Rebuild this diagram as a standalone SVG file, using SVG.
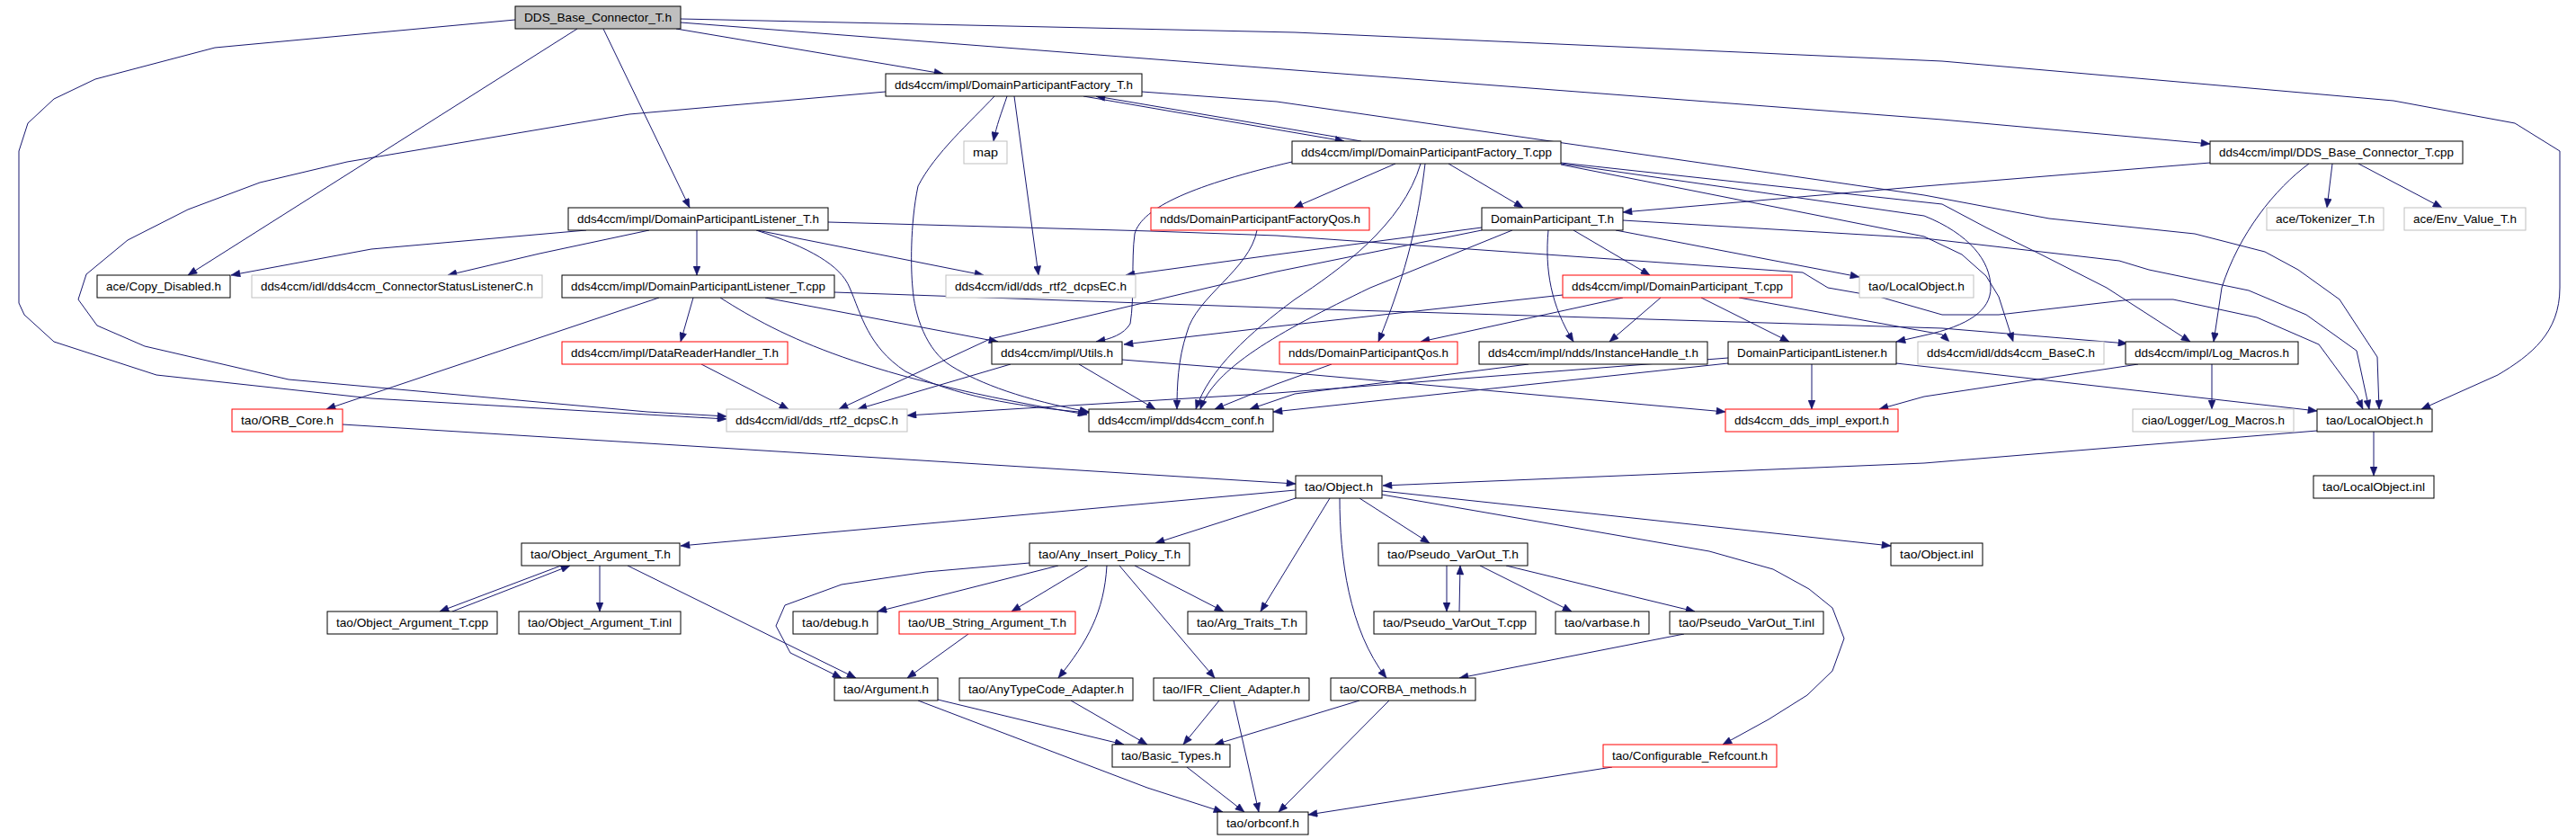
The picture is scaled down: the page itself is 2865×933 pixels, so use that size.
<svg xmlns="http://www.w3.org/2000/svg" width="2865" height="933" viewBox="0 0 2865 933">
<style>
.node rect{fill:#ffffff;stroke:#000000;stroke-width:1}
.node rect.gray{stroke:#bfbfbf}
.node rect.red{stroke:#ff0000}
.node rect.root{fill:#bfbfbf;stroke:#000000}
.node text{font-family:"Liberation Sans",Arial,sans-serif;font-size:13.5px;fill:#000000}
#edges path{fill:none;stroke:#191970;stroke-width:1;marker-end:url(#arr)}
</style>
<defs>
<marker id="arr" markerUnits="userSpaceOnUse" viewBox="0 0 10 8" refX="10" refY="4" markerWidth="11" markerHeight="8" orient="auto">
<path d="M0,0 L10,4 L0,8 z" fill="#191970" stroke="#191970" stroke-width="0.5"/>
</marker>
</defs>
<rect x="0" y="0" width="2865" height="933" fill="#ffffff"/>
<g id="edges">
<path d="M752,32 L1049,82"/>
<path d="M642,32 L209,306"/>
<path d="M671,32 L767,231"/>
<path d="M573,22 L239,53 L106,88 L60,110 L31,137 L21,168 L21,337 L27,350 L60,380 L174,417 L413,443 L720,461 L808,466"/>
<path d="M985,102 L700,127 L386,180 L289,203 L209,233 L142,267 L96,305 L87,333 L108,362 L161,385 L321,422 L720,458 L808,463"/>
<path d="M757,25 L1440,78 L2160,133 L2458,160"/>
<path d="M757,21 L1440,36 L2160,68 L2662,112 L2797,137 L2847,168 L2847,320 C2847,370 2815,395 2778,417 L2693,455"/>
<path d="M1120,107 C1114,125 1108,140 1105,157"/>
<path d="M1128,107 L1155,306"/>
<path d="M1106,107 C1080,135 1040,170 1021,207 C1012,250 1013,300 1015,320 C1017,350 1030,390 1058,407 C1090,427 1140,445 1211,458"/>
<path d="M1205,107 L1495,157"/>
<path d="M1514,157 L1219,107"/>
<path d="M1270,102 L1420,113 L2140,217 L2279,243 L2441,260 L2519,280 L2556,300 L2602,333 L2644,397 L2646,455"/>
<path d="M652,256 L413,277 L257,306"/>
<path d="M722,256 L600,282 L498,306"/>
<path d="M775,256 L775,306"/>
<path d="M842,256 L1094,306"/>
<path d="M841,256 C900,275 935,295 945,320 C958,350 965,385 1007,413 C1060,440 1130,452 1211,459"/>
<path d="M921,247 L1280,257 L1420,262 L2005,303 L2033,320 L2090,330 L2160,350 L2223,350 L2371,333 L2417,333 L2510,353 L2579,383 L2621,440 L2628,455"/>
<path d="M771,331 L757,380"/>
<path d="M851,331 L1110,380"/>
<path d="M801,331 C870,375 960,420 1209,461"/>
<path d="M733,331 L363,455"/>
<path d="M928,325 L1440,343 L2160,365 L2366,382"/>
<path d="M780,405 L877,455"/>
<path d="M1124,405 L954,455"/>
<path d="M1200,405 L1285,455"/>
<path d="M1248,400 L1440,415 L1919,458"/>
<path d="M1552,182 L1439,231"/>
<path d="M1611,182 L1694,231"/>
<path d="M1437,180 C1330,205 1270,230 1262,260 C1258,290 1262,330 1257,360 C1250,372 1235,377 1219,380"/>
<path d="M1580,182 C1560,250 1490,300 1440,333 C1390,370 1345,410 1330,455"/>
<path d="M1585,182 C1578,240 1566,300 1533,380"/>
<path d="M1736,181 L2160,227 L2209,253 L2270,283 L2343,320 L2436,380"/>
<path d="M1736,182 L2140,240 C2190,260 2214,290 2214,320 C2214,345 2190,362 2140,373 L2109,380"/>
<path d="M1736,183 L2140,263 L2182,283 L2209,307 L2223,330 L2239,380"/>
<path d="M2458,181 L2140,207 L1805,236"/>
<path d="M2594,182 L2588,231"/>
<path d="M2623,182 L2716,231"/>
<path d="M2568,182 C2530,210 2490,260 2471,320 L2462,380"/>
<path d="M1648,253 L1420,283 L1252,306"/>
<path d="M1648,256 L1420,302 L1101,377 L933,455"/>
<path d="M1682,256 L1524,320 C1420,370 1350,410 1335,455"/>
<path d="M1750,256 L1835,306"/>
<path d="M1797,256 L2068,308"/>
<path d="M1722,256 C1718,300 1725,340 1750,380"/>
<path d="M1805,245 L2140,265 L2357,290 L2390,300 L2501,323 L2565,350 L2621,390 L2635,455"/>
<path d="M1805,331 L1580,380"/>
<path d="M1847,331 L1790,380"/>
<path d="M1892,331 L1990,380"/>
<path d="M1934,331 L2160,372 L2168,380"/>
<path d="M1738,328 L1420,363 L1250,383"/>
<path d="M1481,405 L1420,427 L1351,455"/>
<path d="M1398,256 C1390,300 1330,330 1320,370 C1310,400 1309,430 1309,455"/>
<path d="M1700,405 L1440,438 L1390,455"/>
<path d="M2015,405 L2015,455"/>
<path d="M1922,404 L1416,458"/>
<path d="M1922,398 L1420,437 L1009,462"/>
<path d="M2109,404 L2577,457"/>
<path d="M2460,405 L2460,455"/>
<path d="M2378,405 L2140,441 L2090,455"/>
<path d="M2577,479 L2140,515 L1538,540"/>
<path d="M2640,480 L2640,529"/>
<path d="M381,472 L720,493 L1441,538"/>
<path d="M1441,545 L757,607"/>
<path d="M1441,554 L1285,604"/>
<path d="M1479,554 L1402,680"/>
<path d="M1490,554 C1490,620 1500,700 1542,754"/>
<path d="M1512,554 L1590,604"/>
<path d="M1537,546 L2103,607"/>
<path d="M1537,550 L1901,613 L1972,633 L2012,655 L2038,676 L2051,710 L2038,746 L2010,773 L1967,800 L1916,828"/>
<path d="M624,629 L489,680"/>
<path d="M503,680 L634,629"/>
<path d="M667,629 L667,680"/>
<path d="M698,629 L952,754"/>
<path d="M1145,626 L1030,636 L936,650 L873,673 L863,696 L879,726 L936,754"/>
<path d="M1177,629 L976,680"/>
<path d="M1210,629 L1125,680"/>
<path d="M1231,629 C1228,680 1210,713 1177,754"/>
<path d="M1245,629 L1351,754"/>
<path d="M1262,629 L1361,680"/>
<path d="M1077,705 L1009,754"/>
<path d="M1043,778 L1250,828"/>
<path d="M1021,779 L1276,876 L1360,903"/>
<path d="M1191,779 L1276,828"/>
<path d="M1356,779 L1316,828"/>
<path d="M1372,779 L1400,903"/>
<path d="M1512,779 L1351,828"/>
<path d="M1545,779 L1422,903"/>
<path d="M1320,853 L1384,903"/>
<path d="M1793,853 L1455,906"/>
<path d="M1609,629 L1609,680"/>
<path d="M1623,680 L1624,629"/>
<path d="M1646,629 L1748,680"/>
<path d="M1675,629 L1885,680"/>
<path d="M1873,705 L1623,754"/>
</g>
<g id="n0" class="node"><rect class="root" x="573" y="7" width="184" height="25"/><text x="583" y="24" textLength="164" lengthAdjust="spacingAndGlyphs">DDS_Base_Connector_T.h</text></g>
<g id="n1" class="node"><rect x="985" y="82" width="285" height="25"/><text x="995" y="99" textLength="265" lengthAdjust="spacingAndGlyphs">dds4ccm/impl/DomainParticipantFactory_T.h</text></g>
<g id="n2" class="node"><rect class="gray" x="1072" y="157" width="48" height="25"/><text x="1082" y="174" textLength="28" lengthAdjust="spacingAndGlyphs">map</text></g>
<g id="n3" class="node"><rect x="1437" y="157" width="299" height="25"/><text x="1447" y="174" textLength="279" lengthAdjust="spacingAndGlyphs">dds4ccm/impl/DomainParticipantFactory_T.cpp</text></g>
<g id="n4" class="node"><rect x="2458" y="157" width="281" height="25"/><text x="2468" y="174" textLength="261" lengthAdjust="spacingAndGlyphs">dds4ccm/impl/DDS_Base_Connector_T.cpp</text></g>
<g id="n5" class="node"><rect class="gray" x="2521" y="231" width="130" height="25"/><text x="2531" y="248" textLength="110" lengthAdjust="spacingAndGlyphs">ace/Tokenizer_T.h</text></g>
<g id="n6" class="node"><rect class="gray" x="2674" y="231" width="135" height="25"/><text x="2684" y="248" textLength="115" lengthAdjust="spacingAndGlyphs">ace/Env_Value_T.h</text></g>
<g id="n7" class="node"><rect x="632" y="231" width="289" height="25"/><text x="642" y="248" textLength="269" lengthAdjust="spacingAndGlyphs">dds4ccm/impl/DomainParticipantListener_T.h</text></g>
<g id="n8" class="node"><rect class="red" x="1280" y="231" width="243" height="25"/><text x="1290" y="248" textLength="223" lengthAdjust="spacingAndGlyphs">ndds/DomainParticipantFactoryQos.h</text></g>
<g id="n9" class="node"><rect x="1648" y="231" width="157" height="25"/><text x="1658" y="248" textLength="137" lengthAdjust="spacingAndGlyphs">DomainParticipant_T.h</text></g>
<g id="n10" class="node"><rect x="108" y="306" width="148" height="25"/><text x="118" y="323" textLength="128" lengthAdjust="spacingAndGlyphs">ace/Copy_Disabled.h</text></g>
<g id="n11" class="node"><rect class="gray" x="280" y="306" width="323" height="25"/><text x="290" y="323" textLength="303" lengthAdjust="spacingAndGlyphs">dds4ccm/idl/dds4ccm_ConnectorStatusListenerC.h</text></g>
<g id="n12" class="node"><rect x="625" y="306" width="303" height="25"/><text x="635" y="323" textLength="283" lengthAdjust="spacingAndGlyphs">dds4ccm/impl/DomainParticipantListener_T.cpp</text></g>
<g id="n13" class="node"><rect class="gray" x="1052" y="306" width="211" height="25"/><text x="1062" y="323" textLength="191" lengthAdjust="spacingAndGlyphs">dds4ccm/idl/dds_rtf2_dcpsEC.h</text></g>
<g id="n14" class="node"><rect class="red" x="1738" y="306" width="255" height="25"/><text x="1748" y="323" textLength="235" lengthAdjust="spacingAndGlyphs">dds4ccm/impl/DomainParticipant_T.cpp</text></g>
<g id="n15" class="node"><rect class="gray" x="2068" y="306" width="127" height="25"/><text x="2078" y="323" textLength="107" lengthAdjust="spacingAndGlyphs">tao/LocalObject.h</text></g>
<g id="n16" class="node"><rect class="red" x="625" y="380" width="251" height="25"/><text x="635" y="397" textLength="231" lengthAdjust="spacingAndGlyphs">dds4ccm/impl/DataReaderHandler_T.h</text></g>
<g id="n17" class="node"><rect x="1103" y="380" width="145" height="25"/><text x="1113" y="397" textLength="125" lengthAdjust="spacingAndGlyphs">dds4ccm/impl/Utils.h</text></g>
<g id="n18" class="node"><rect class="red" x="1423" y="380" width="198" height="25"/><text x="1433" y="397" textLength="178" lengthAdjust="spacingAndGlyphs">ndds/DomainParticipantQos.h</text></g>
<g id="n19" class="node"><rect x="1645" y="380" width="254" height="25"/><text x="1655" y="397" textLength="234" lengthAdjust="spacingAndGlyphs">dds4ccm/impl/ndds/InstanceHandle_t.h</text></g>
<g id="n20" class="node"><rect x="1922" y="380" width="187" height="25"/><text x="1932" y="397" textLength="167" lengthAdjust="spacingAndGlyphs">DomainParticipantListener.h</text></g>
<g id="n21" class="node"><rect class="gray" x="2133" y="380" width="207" height="25"/><text x="2143" y="397" textLength="187" lengthAdjust="spacingAndGlyphs">dds4ccm/idl/dds4ccm_BaseC.h</text></g>
<g id="n22" class="node"><rect x="2364" y="380" width="192" height="25"/><text x="2374" y="397" textLength="172" lengthAdjust="spacingAndGlyphs">dds4ccm/impl/Log_Macros.h</text></g>
<g id="n23" class="node"><rect class="gray" x="808" y="455" width="201" height="25"/><text x="818" y="472" textLength="181" lengthAdjust="spacingAndGlyphs">dds4ccm/idl/dds_rtf2_dcpsC.h</text></g>
<g id="n24" class="node"><rect x="1211" y="455" width="205" height="25"/><text x="1221" y="472" textLength="185" lengthAdjust="spacingAndGlyphs">dds4ccm/impl/dds4ccm_conf.h</text></g>
<g id="n25" class="node"><rect class="red" x="1919" y="455" width="192" height="25"/><text x="1929" y="472" textLength="172" lengthAdjust="spacingAndGlyphs">dds4ccm_dds_impl_export.h</text></g>
<g id="n26" class="node"><rect class="gray" x="2372" y="455" width="179" height="25"/><text x="2382" y="472" textLength="159" lengthAdjust="spacingAndGlyphs">ciao/Logger/Log_Macros.h</text></g>
<g id="n27" class="node"><rect x="2577" y="455" width="128" height="25"/><text x="2587" y="472" textLength="108" lengthAdjust="spacingAndGlyphs">tao/LocalObject.h</text></g>
<g id="n28" class="node"><rect class="red" x="258" y="455" width="123" height="25"/><text x="268" y="472" textLength="103" lengthAdjust="spacingAndGlyphs">tao/ORB_Core.h</text></g>
<g id="n29" class="node"><rect x="1441" y="529" width="96" height="25"/><text x="1451" y="546" textLength="76" lengthAdjust="spacingAndGlyphs">tao/Object.h</text></g>
<g id="n30" class="node"><rect x="2573" y="529" width="134" height="25"/><text x="2583" y="546" textLength="114" lengthAdjust="spacingAndGlyphs">tao/LocalObject.inl</text></g>
<g id="n31" class="node"><rect x="580" y="604" width="176" height="25"/><text x="590" y="621" textLength="156" lengthAdjust="spacingAndGlyphs">tao/Object_Argument_T.h</text></g>
<g id="n32" class="node"><rect x="1145" y="604" width="178" height="25"/><text x="1155" y="621" textLength="158" lengthAdjust="spacingAndGlyphs">tao/Any_Insert_Policy_T.h</text></g>
<g id="n33" class="node"><rect x="1533" y="604" width="166" height="25"/><text x="1543" y="621" textLength="146" lengthAdjust="spacingAndGlyphs">tao/Pseudo_VarOut_T.h</text></g>
<g id="n34" class="node"><rect x="2103" y="604" width="102" height="25"/><text x="2113" y="621" textLength="82" lengthAdjust="spacingAndGlyphs">tao/Object.inl</text></g>
<g id="n35" class="node"><rect x="364" y="680" width="189" height="25"/><text x="374" y="697" textLength="169" lengthAdjust="spacingAndGlyphs">tao/Object_Argument_T.cpp</text></g>
<g id="n36" class="node"><rect x="577" y="680" width="180" height="25"/><text x="587" y="697" textLength="160" lengthAdjust="spacingAndGlyphs">tao/Object_Argument_T.inl</text></g>
<g id="n37" class="node"><rect x="882" y="680" width="94" height="25"/><text x="892" y="697" textLength="74" lengthAdjust="spacingAndGlyphs">tao/debug.h</text></g>
<g id="n38" class="node"><rect class="red" x="1000" y="680" width="196" height="25"/><text x="1010" y="697" textLength="176" lengthAdjust="spacingAndGlyphs">tao/UB_String_Argument_T.h</text></g>
<g id="n39" class="node"><rect x="1321" y="680" width="132" height="25"/><text x="1331" y="697" textLength="112" lengthAdjust="spacingAndGlyphs">tao/Arg_Traits_T.h</text></g>
<g id="n40" class="node"><rect x="1528" y="680" width="180" height="25"/><text x="1538" y="697" textLength="160" lengthAdjust="spacingAndGlyphs">tao/Pseudo_VarOut_T.cpp</text></g>
<g id="n41" class="node"><rect x="1730" y="680" width="104" height="25"/><text x="1740" y="697" textLength="84" lengthAdjust="spacingAndGlyphs">tao/varbase.h</text></g>
<g id="n42" class="node"><rect x="1857" y="680" width="171" height="25"/><text x="1867" y="697" textLength="151" lengthAdjust="spacingAndGlyphs">tao/Pseudo_VarOut_T.inl</text></g>
<g id="n43" class="node"><rect x="928" y="754" width="115" height="25"/><text x="938" y="771" textLength="95" lengthAdjust="spacingAndGlyphs">tao/Argument.h</text></g>
<g id="n44" class="node"><rect x="1067" y="754" width="193" height="25"/><text x="1077" y="771" textLength="173" lengthAdjust="spacingAndGlyphs">tao/AnyTypeCode_Adapter.h</text></g>
<g id="n45" class="node"><rect x="1283" y="754" width="173" height="25"/><text x="1293" y="771" textLength="153" lengthAdjust="spacingAndGlyphs">tao/IFR_Client_Adapter.h</text></g>
<g id="n46" class="node"><rect x="1480" y="754" width="161" height="25"/><text x="1490" y="771" textLength="141" lengthAdjust="spacingAndGlyphs">tao/CORBA_methods.h</text></g>
<g id="n47" class="node"><rect x="1237" y="828" width="131" height="25"/><text x="1247" y="845" textLength="111" lengthAdjust="spacingAndGlyphs">tao/Basic_Types.h</text></g>
<g id="n48" class="node"><rect class="red" x="1783" y="828" width="193" height="25"/><text x="1793" y="845" textLength="173" lengthAdjust="spacingAndGlyphs">tao/Configurable_Refcount.h</text></g>
<g id="n49" class="node"><rect x="1354" y="903" width="101" height="25"/><text x="1364" y="920" textLength="81" lengthAdjust="spacingAndGlyphs">tao/orbconf.h</text></g>
</svg>
